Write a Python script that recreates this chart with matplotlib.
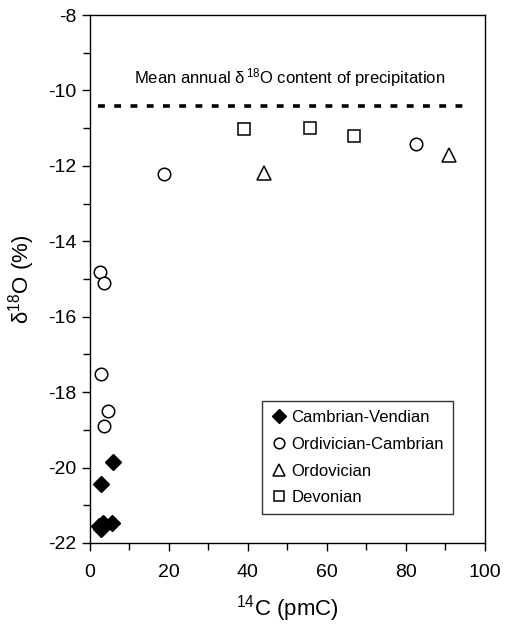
import matplotlib
matplotlib.use("Agg")
import matplotlib.pyplot as plt
from matplotlib.ticker import MultipleLocator

plt.rcParams['font.family'] = ['Liberation Sans', 'DejaVu Sans']
plt.rcParams['mathtext.default'] = 'regular'
plt.rcParams['axes.unicode_minus'] = False

# Data
cv_x = [2.7, 5.9, 2.7, 3.4, 5.7, 2.4]
cv_y = [-20.44, -19.85, -21.64, -21.47, -21.47, -21.55]

oc_x = [18.7, 82.7, 2.5, 3.6, 2.7, 4.6, 3.5]
oc_y = [-12.21, -11.42, -14.81, -15.11, -17.51, -18.5, -18.9]

ord_x = [44.0, 91.0]
ord_y = [-12.2, -11.72]

dev_x = [38.9, 55.7, 66.8]
dev_y = [-11.02, -11.0, -11.22]

precip_mean = -10.4

fig = plt.figure(figsize=(5.05, 6.27), dpi=100)
ax = fig.add_axes([0.178, 0.134, 0.782, 0.842])

ax.plot([2, 96], [precip_mean, precip_mean], color='black', lw=2.6,
        linestyle=(0, (1.9, 2.6)))
ax.text(50.5, -9.65, r'Mean annual $\delta^{\,18}$O content of precipitation',
        ha='center', va='center', fontsize=12)

ax.plot(cv_x, cv_y, linestyle='none', marker='D', ms=8, mfc='black', mec='black',
        label='Cambrian-Vendian')
ax.plot(oc_x, oc_y, linestyle='none', marker='o', ms=9, mfc='white', mec='black',
        mew=1.1, label='Ordivician-Cambrian')
ax.plot(ord_x, ord_y, linestyle='none', marker='^', ms=10, mfc='white', mec='black',
        mew=1.1, label='Ordovician')
ax.plot(dev_x, dev_y, linestyle='none', marker='s', ms=8.5, mfc='white', mec='black',
        mew=1.1, label='Devonian')

ax.set_xlim(0, 100)
ax.set_ylim(-22, -8)
ax.xaxis.set_major_locator(MultipleLocator(20))
ax.xaxis.set_minor_locator(MultipleLocator(10))
ax.yaxis.set_major_locator(MultipleLocator(2))
ax.yaxis.set_minor_locator(MultipleLocator(1))
ax.tick_params(which='both', direction='out', labelsize=14, width=1)
ax.tick_params(which='major', length=6)
ax.tick_params(which='minor', length=5)
ax.tick_params(axis='x', pad=9)
ax.tick_params(axis='y', pad=4)
for s in ax.spines.values():
    s.set_linewidth(1)

ax.set_xlabel(r'$^{14}$C (pmC)', fontsize=16, labelpad=9)
ax.set_ylabel(r'$\delta^{18}$O (%)', fontsize=16, labelpad=8)

leg = ax.legend(loc='lower right', bbox_to_anchor=(0.92, 0.054), fontsize=12,
                frameon=True, fancybox=False, edgecolor='black', handlelength=0.95,
                handletextpad=0.25, borderpad=0.55, labelspacing=0.7,
                borderaxespad=0, markerscale=0.85)
leg.get_frame().set_linewidth(1)

fig.savefig('out.png', dpi=100)
